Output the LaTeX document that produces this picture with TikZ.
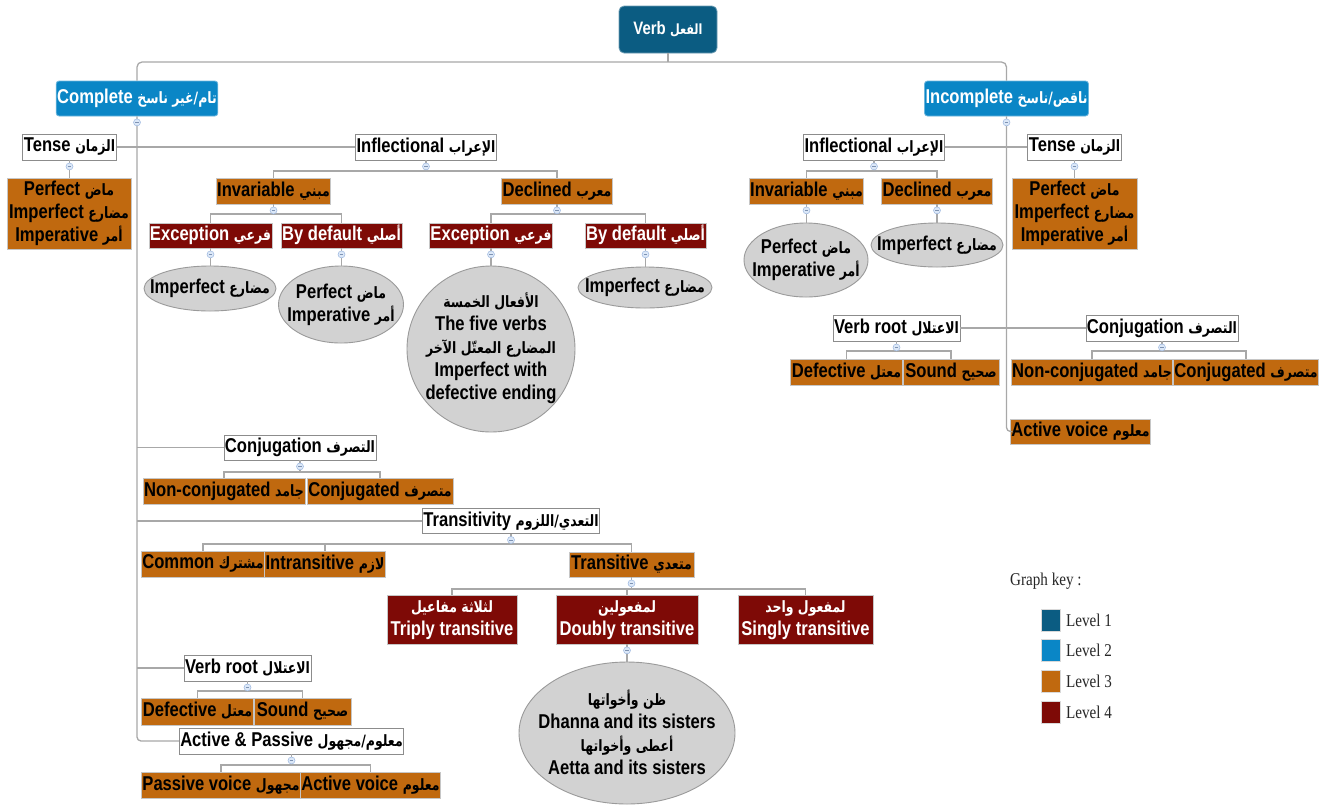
\documentclass[tikz,border=0pt]{standalone}
\usepackage{fontspec}
\setmainfont{Liberation Sans}[FakeStretch=0.83]
\newfontfamily\arfont[Script=Arabic,Scale=0.78,FakeStretch=0.8]{DejaVu Sans}
\newfontfamily\keyfont{Liberation Serif}[FakeStretch=0.84]
\TeXXeTstate=1
\usetikzlibrary{shapes.geometric}
\newcommand\artx[1]{\smash{\arfont\beginR #1\endR}\vphantom{Ty}}
\definecolor{lvA}{HTML}{0B5C82}
\definecolor{lvB}{HTML}{0A86C6}
\definecolor{lvC}{HTML}{C0690F}
\definecolor{lvD}{HTML}{7E0A06}
\definecolor{ellfill}{HTML}{D2D2D2}
\definecolor{ellline}{HTML}{9A9A9A}
\definecolor{linegray}{HTML}{A8A8A8}
\definecolor{boxgray}{HTML}{8C8C8C}
\definecolor{mkfill}{HTML}{DCE8F8}
\definecolor{mkline}{HTML}{9DB8E0}
\newcommand\busline[3]{\draw[conn] (#1.south) -- (#1.south |- 0,#2) -| (#3.north);}
\begin{document}
\begin{tikzpicture}[x=1pt,y=-1pt,
  every node/.style={font=\fontsize{20}{23}\selectfont\bfseries, align=center, inner sep=1pt},
  sz/.style 2 args={minimum width=#1pt, minimum height=#2pt},
  wbox/.style={rectangle, fill=white, draw=boxgray, line width=0.9pt, text=black},
  lvone/.style={rectangle, rounded corners=5pt, fill=lvA, draw=lvA!60!white, line width=0.8pt, text=white},
  lvtwo/.style={rectangle, rounded corners=3pt, fill=lvB, draw=lvB!60!white, line width=0.8pt, text=white},
  lvthree/.style={rectangle, fill=lvC, draw=gray!45, line width=0.8pt, text=black},
  lvfour/.style={rectangle, fill=lvD, draw=gray!45, line width=0.8pt, text=white},
  ell/.style={ellipse, fill=ellfill, draw=ellline, line width=0.9pt, inner sep=-40pt, text=black},
  conn/.style={draw=linegray, line width=1.3pt},
  marker/.style={circle, minimum size=7pt, inner sep=0pt, fill=mkfill, draw=mkline, line width=0.5pt,
    path picture={\draw[mkline!80!black, line width=0.5pt] ([xshift=-1.8pt]path picture bounding box.center) -- ([xshift=1.8pt]path picture bounding box.center);}},
  keysq/.style={rectangle, minimum width=19pt, minimum height=22pt, inner sep=0pt, draw=white!85!black, line width=0.6pt},
  keylab/.style={anchor=west, inner sep=0pt, font=\keyfont\fontsize{18}{20}\selectfont, text=black!85}
]
\useasboundingbox (0,0) rectangle (1328,807);
\fill[white] (0,0) rectangle (1328,807);

% ---------- level 1 / 2 ----------
\node[lvone, sz={98}{47}, font=\fontsize{18}{21}\selectfont\bfseries] (Root) at (668,29.5) {Verb \artx{الفعل}};
\node[lvtwo, sz={160}{35}] (CompL) at (137,98.5) {Complete \artx{تام/غير ناسخ}};
\node[lvtwo, sz={163}{35}] (IncR) at (1006.5,98.5) {Incomplete \artx{ناقص/ناسخ}};

% ---------- left: complete ----------
\node[wbox, sz={93}{26}] (TenseL) at (69.5,147) {Tense \artx{الزمان}};
\node[wbox, sz={140}{26}] (InflL) at (426,147) {Inflectional \artx{الإعراب}};
\node[lvthree, sz={124}{71}] (TenseChL) at (69,213.5) {Perfect \artx{ماض}\\Imperfect \artx{مضارع}\\Imperative \artx{أمر}};
\node[lvthree, sz={113}{26}] (InvL) at (273.5,191) {Invariable \artx{مبني}};
\node[lvthree, sz={110}{26}] (DecL) at (557,191) {Declined \artx{معرب}};
\node[lvfour, sz={121}{25}] (ExcLa) at (210.5,235.5) {Exception \artx{فرعي}};
\node[lvfour, sz={120}{25}] (ByDefLa) at (341.5,235.5) {By default \artx{أصلي}};
\node[ell, sz={132}{45}] (EImpLa) at (210,288.5) {Imperfect \artx{مضارع}};
\node[ell, sz={125}{77}] (EPerfLa) at (341,304.5) {Perfect \artx{ماض}\\Imperative \artx{أمر}};
\node[lvfour, sz={120}{25}] (ExcLb) at (491,235.5) {Exception \artx{فرعي}};
\node[lvfour, sz={121}{25}] (ByDefLb) at (645.5,235.5) {By default \artx{أصلي}};
\node[ell, sz={168}{166}] (EFive) at (491,349) {\artx{الأفعال الخمسة}\\The five verbs\\\artx{المضارع المعتّل الآخر}\\Imperfect with\\defective ending};
\node[ell, sz={134}{41}] (EImpLb) at (645,287.5) {Imperfect \artx{مضارع}};

\node[wbox, sz={152}{25}] (ConjL) at (300,447.5) {Conjugation \artx{التصرف}};
\node[lvthree, sz={162}{26}] (NonConjL) at (224,491) {Non-conjugated \artx{جامد}};
\node[lvthree, sz={146}{26}] (ConjgL) at (380,491) {Conjugated \artx{متصرف}};
\node[wbox, sz={169}{25}] (TransL) at (511,521) {Transitivity \artx{التعدي/اللزوم}};
\node[lvthree, sz={119}{26}] (CommonL) at (203,564) {Common \artx{مشترك}};
\node[lvthree, sz={119}{26}] (IntransL) at (325,564) {Intransitive \artx{لازم}};
\node[lvthree, sz={125}{25}] (TransvL) at (631.5,564.5) {Transitive \artx{متعدي}};
\node[lvfour, sz={130}{49}] (Triply) at (452,619.5) {\artx{لثلاثة مفاعيل}\\Triply transitive};
\node[lvfour, sz={142}{49}] (Doubly) at (627,619.5) {\artx{لمفعولين}\\Doubly transitive};
\node[lvfour, sz={135}{49}] (Singly) at (805.5,619.5) {\artx{لمفعول واحد}\\Singly transitive};
\node[ell, sz={216}{142}] (EDhanna) at (627,733) {\artx{ظن وأخواتها}\\Dhanna and its sisters\\\artx{أعطى وأخواتها}\\Aetta and its sisters};
\node[wbox, sz={125}{26}] (VRootL) at (247.5,668) {Verb root \artx{الاعتلال}};
\node[lvthree, sz={109}{27}] (DefL) at (197.5,711.5) {Defective \artx{معتل}};
\node[lvthree, sz={97}{27}] (SoundL) at (302.5,711.5) {Sound \artx{صحيح}};
\node[wbox, sz={215}{26}] (ActPassL) at (291.5,741) {Active \& Passive \artx{معلوم/مجهول}};
\node[lvthree, sz={156}{26}] (PassiveL) at (221,785) {Passive voice \artx{مجهول}};
\node[lvthree, sz={137}{26}] (ActiveL) at (370.5,785) {Active voice \artx{معلوم}};

% ---------- right: incomplete ----------
\node[wbox, sz={138}{26}] (InflR) at (874,147) {Inflectional \artx{الإعراب}};
\node[wbox, sz={93}{26}] (TenseR) at (1074.5,147) {Tense \artx{الزمان}};
\node[lvthree, sz={125}{71}] (TenseChR) at (1074.5,213.5) {Perfect \artx{ماض}\\Imperfect \artx{مضارع}\\Imperative \artx{أمر}};
\node[lvthree, sz={113}{26}] (InvR) at (806.5,191) {Invariable \artx{مبني}};
\node[lvthree, sz={110}{26}] (DecR) at (937,191) {Declined \artx{معرب}};
\node[ell, sz={124}{74}] (EInvR) at (806,260) {Perfect \artx{ماض}\\Imperative \artx{أمر}};
\node[ell, sz={132}{44}] (EDecR) at (937,245) {Imperfect \artx{مضارع}};
\node[wbox, sz={125}{26}] (VRootR) at (896.5,328) {Verb root \artx{الاعتلال}};
\node[lvthree, sz={109}{26}] (DefR) at (846.5,372) {Defective \artx{معتل}};
\node[lvthree, sz={96}{26}] (SoundR) at (951,372) {Sound \artx{صحيح}};
\node[wbox, sz={150}{26}] (ConjR) at (1162,328) {Conjugation \artx{التصرف}};
\node[lvthree, sz={160}{26}] (NonConjR) at (1092,372) {Non-conjugated \artx{جامد}};
\node[lvthree, sz={144}{26}] (ConjgR) at (1246,372) {Conjugated \artx{متصرف}};
\node[lvthree, sz={137}{25}] (ActiveR) at (1080.5,431.5) {Active voice \artx{معلوم}};

% ---------- connectors ----------
\draw[conn] (Root.south) -- (Root.south |- 0,62);
\draw[conn, rounded corners=5pt] (CompL.north) -- (CompL.north |- 0,62) -- (IncR.north |- 0,62) -- (IncR.north);
\draw[conn, rounded corners=4pt] (CompL.south) |- (ActPassL.west);
\draw[conn] (TenseL.east) -- (InflL.west);
\draw[conn] (CompL.south |- ConjL.west) -- (ConjL.west);
\draw[conn] (CompL.south |- TransL.west) -- (TransL.west);
\draw[conn] (CompL.south |- VRootL.west) -- (VRootL.west);
\draw[conn, rounded corners=4pt] (IncR.south) |- (ActiveR.west);
\draw[conn] (InflR.east) -- (TenseR.west);
\draw[conn] (VRootR.east) -- (ConjR.west);

\draw[conn] (TenseL.south) -- (TenseL.south |- TenseChL.north);
\busline{InflL}{171}{InvL}
\busline{InflL}{171}{DecL}
\busline{InvL}{214}{ExcLa}
\busline{InvL}{214}{ByDefLa}
\busline{DecL}{214}{ExcLb}
\busline{DecL}{214}{ByDefLb}
\draw[conn] (ExcLa.south) -- (ExcLa.south |- EImpLa.north);
\draw[conn] (ByDefLa.south) -- (ByDefLa.south |- EPerfLa.north);
\draw[conn] (ExcLb.south) -- (ExcLb.south |- EFive.north);
\draw[conn] (ByDefLb.south) -- (ByDefLb.south |- EImpLb.north);
\busline{ConjL}{472}{NonConjL}
\busline{ConjL}{472}{ConjgL}
\busline{TransL}{544}{CommonL}
\busline{TransL}{544}{IntransL}
\busline{TransL}{544}{TransvL}
\busline{TransvL}{589}{Triply}
\busline{TransvL}{589}{Doubly}
\busline{TransvL}{589}{Singly}
\draw[conn] (Doubly.south) -- (Doubly.south |- EDhanna.north);
\busline{VRootL}{691}{DefL}
\busline{VRootL}{691}{SoundL}
\busline{ActPassL}{765}{PassiveL}
\busline{ActPassL}{765}{ActiveL}

\draw[conn] (TenseR.south) -- (TenseR.south |- TenseChR.north);
\busline{InflR}{171}{InvR}
\busline{InflR}{171}{DecR}
\draw[conn] (InvR.south) -- (InvR.south |- EInvR.north);
\draw[conn] (DecR.south) -- (DecR.south |- EDecR.north);
\busline{VRootR}{351}{DefR}
\busline{VRootR}{351}{SoundR}
\busline{ConjR}{351}{NonConjR}
\busline{ConjR}{351}{ConjgR}

% ---------- collapse markers ----------
\foreach \n in {CompL,IncR,TenseL,InflL,InvL,DecL,ExcLa,ByDefLa,ExcLb,ByDefLb,ConjL,TransL,TransvL,Doubly,VRootL,ActPassL,InflR,TenseR,InvR,DecR,VRootR,ConjR}
  \node[marker] (mk-\n) at ([yshift=-6pt]\n.south) {};

% ---------- legend ----------
\node[anchor=west, inner sep=0pt, font=\keyfont\fontsize{18}{20}\selectfont, text=black!85] (gkey) at (1010,581) {Graph key :};
\node[keysq, fill=lvA] (sqA) at (1050.5,620.5) {};
\node[keysq, fill=lvB] (sqB) at (1050.5,650.5) {};
\node[keysq, fill=lvC] (sqC) at (1050.5,681.5) {};
\node[keysq, fill=lvD] (sqD) at (1050.5,712) {};
\node[keylab] (labA) at (1066,620.5) {Level 1};
\node[keylab] (labB) at (1066,650.5) {Level 2};
\node[keylab] (labC) at (1066,681.5) {Level 3};
\node[keylab] (labD) at (1066,712) {Level 4};
\end{tikzpicture}
\end{document}
